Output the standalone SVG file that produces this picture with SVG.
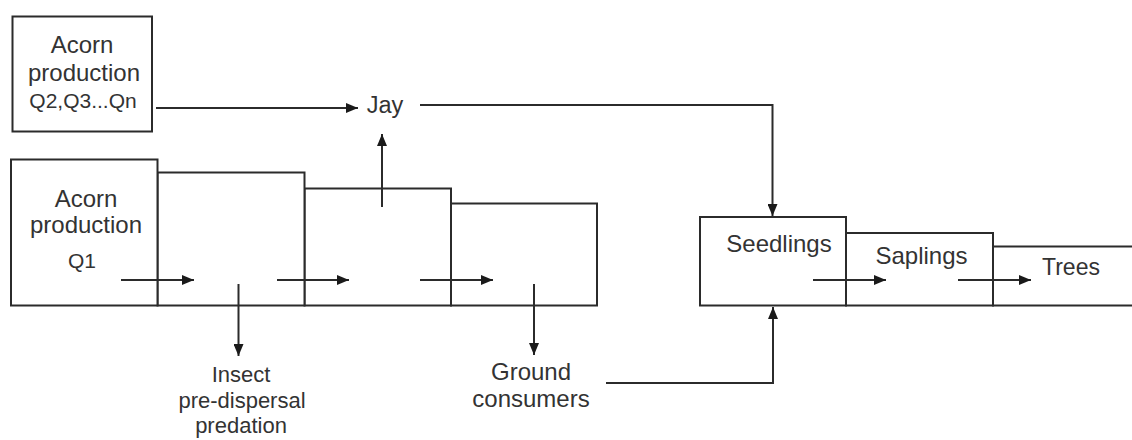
<svg xmlns="http://www.w3.org/2000/svg" width="1132" height="440" viewBox="0 0 1132 440">
<style>
.box{fill:#fff;stroke:#2b2b2b;stroke-width:2}
.ln{fill:none;stroke:#2b2b2b;stroke-width:2}
.arr{fill:none;stroke:#2b2b2b;stroke-width:2;marker-end:url(#ah)}
text{font-family:"Liberation Sans",Arial,sans-serif;fill:#333;text-anchor:middle;font-size:24px}
.sm{font-size:21px}
.ins{font-size:22px}
</style>
<defs>
<marker id="ah" viewBox="0 0 12 10" refX="12" refY="5" markerWidth="12" markerHeight="10" markerUnits="userSpaceOnUse" orient="auto">
<path d="M0,0 L12,5 L0,10 z" fill="#1a1a1a"/>
</marker>
</defs>
<rect width="1132" height="440" fill="#fff"/>
<g id="acorn-q2">
<rect class="box" x="12.5" y="16.5" width="139.5" height="115"/>
<text x="82" y="53">Acorn</text>
<text x="84" y="81">production</text>
<text class="sm" x="83" y="108">Q2,Q3...Qn</text>
</g>
<g id="stage4">
<rect class="box" x="451" y="203.5" width="146" height="102"/>
</g>
<g id="stage3">
<rect class="box" x="304.5" y="188.5" width="146.5" height="117"/>
</g>
<g id="stage2">
<rect class="box" x="157.5" y="172.5" width="147" height="133"/>
</g>
<g id="acorn-q1">
<rect class="box" x="11" y="159.5" width="146.5" height="146"/>
<text x="86" y="207">Acorn</text>
<text x="86" y="233">production</text>
<text class="sm" x="82" y="268">Q1</text>
</g>
<g id="jay">
<text x="385" y="113" style="font-size:23.5px">Jay</text>
</g>
<g id="insect">
<text class="ins" x="241" y="382">Insect</text>
<text class="ins" x="242" y="407.5">pre-dispersal</text>
<text class="ins" x="241" y="433">predation</text>
</g>
<g id="ground">
<text x="531" y="380">Ground</text>
<text x="531" y="406.5">consumers</text>
</g>
<g id="trees">
<rect class="box" x="993" y="246.5" width="145" height="59"/>
<text x="1071" y="275" style="font-size:23px">Trees</text>
</g>
<g id="saplings">
<rect class="box" x="846" y="233" width="147" height="72.5"/>
<text x="921.5" y="264">Saplings</text>
</g>
<g id="seedlings">
<rect class="box" x="700" y="217" width="146" height="88.5"/>
<text x="779" y="252">Seedlings</text>
</g>
<g id="connectors">
<path class="arr" d="M156,108 L358,108"/>
<path class="arr" d="M382,207 L382,134"/>
<path class="arr" d="M420,105 L772.5,105 L772.5,216"/>
<path class="arr" d="M121,280 L194,280"/>
<path class="arr" d="M277,280 L349,280"/>
<path class="arr" d="M420,280 L493,280"/>
<path class="arr" d="M238.5,284 L238.5,356"/>
<path class="arr" d="M534,284 L534,355"/>
<path class="arr" d="M606,383 L773,383 L773,307"/>
<path class="arr" d="M813,280 L886,280"/>
<path class="arr" d="M958,280 L1031,280"/>
</g>
</svg>
